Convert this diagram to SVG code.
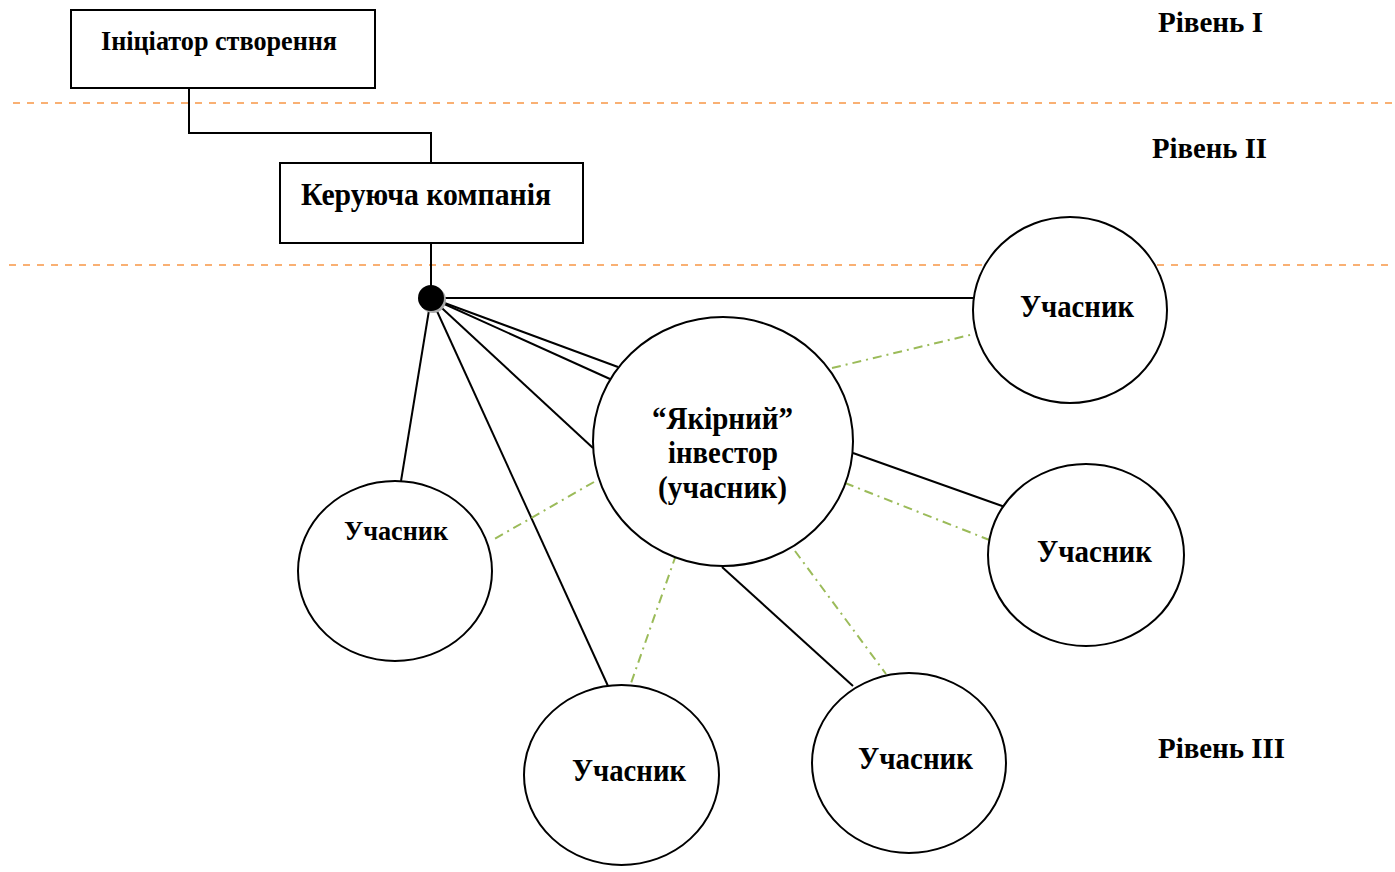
<svg xmlns="http://www.w3.org/2000/svg" width="1395" height="872" viewBox="0 0 1395 872">
<defs>
<style>
.bg{fill:#fff}
.box{fill:#fff;stroke:#000;stroke-width:2}
.node{fill:#fff;stroke:#000;stroke-width:2}
.t{font-family:"Liberation Serif","Times New Roman",serif;font-weight:bold;fill:#000}
.c{stroke:#000;stroke-width:2;fill:none}
.g{stroke:#9BBB59;stroke-width:2;fill:none;stroke-dasharray:9 5 2 5}
.lvl{stroke:#F79646;stroke-width:1.6;stroke-dasharray:7 7;fill:none}
</style>
</defs>
<rect class="bg" x="0" y="0" width="1395" height="872"/>
<g id="levels">
<line class="lvl" x1="13" y1="103" x2="1395" y2="103"/>
<line class="lvl" x1="9" y1="265" x2="1395" y2="265"/>
<text class="t" x="1158" y="32" font-size="30" textLength="105" lengthAdjust="spacingAndGlyphs">Рівень I</text>
<text class="t" x="1152" y="158" font-size="30" textLength="115" lengthAdjust="spacingAndGlyphs">Рівень II</text>
<text class="t" x="1158" y="758" font-size="30" textLength="127" lengthAdjust="spacingAndGlyphs">Рівень III</text>
</g>
<g id="connectors">
<polyline class="c" points="189,88 189,133 431,133 431,163"/>
<line class="c" x1="431" y1="243" x2="431" y2="298"/>
<line class="c" x1="431" y1="298" x2="973" y2="298"/>
<line class="c" x1="431" y1="298" x2="618" y2="367"/>
<line class="c" x1="431" y1="298" x2="610" y2="379"/>
<line class="c" x1="431" y1="298" x2="593" y2="448"/>
<line class="c" x1="431" y1="298" x2="608" y2="686"/>
<line class="c" x1="431" y1="298" x2="401" y2="481"/>
<line class="c" x1="853" y1="453" x2="1005" y2="507"/>
<line class="c" x1="722" y1="567" x2="853" y2="686"/>
<line class="g" x1="832" y1="368" x2="974" y2="334"/>
<line class="g" x1="845" y1="483" x2="992" y2="541"/>
<line class="g" x1="594" y1="482" x2="491" y2="541"/>
<line class="g" x1="676" y1="555" x2="630" y2="686"/>
<line class="g" x1="795" y1="551" x2="886" y2="674"/>
<circle cx="433" cy="300" r="13" fill="#aaa"/>
<circle cx="431" cy="298" r="13" fill="#000"/>
</g>
<g id="initiator">
<rect class="box" x="71" y="10" width="304" height="78"/>
<text class="t" x="101" y="50" font-size="27" textLength="236" lengthAdjust="spacingAndGlyphs">Ініціатор створення</text>
</g>
<g id="management">
<rect class="box" x="280" y="163" width="303" height="80"/>
<text class="t" x="301" y="205" font-size="31" textLength="250" lengthAdjust="spacingAndGlyphs">Керуюча компанія</text>
</g>
<g id="anchor">
<ellipse class="node" cx="723" cy="441.5" rx="130" ry="124.5"/>
<text class="t" x="652" y="429" font-size="31" textLength="141" lengthAdjust="spacingAndGlyphs">“Якірний”</text>
<text class="t" x="668" y="463" font-size="31" textLength="110" lengthAdjust="spacingAndGlyphs">інвестор</text>
<text class="t" x="658" y="498" font-size="31" textLength="129" lengthAdjust="spacingAndGlyphs">(учасник)</text>
</g>
<g id="p1">
<ellipse class="node" cx="1070" cy="310" rx="97" ry="93"/>
<text class="t" x="1020" y="317" font-size="31" textLength="114" lengthAdjust="spacingAndGlyphs">Учасник</text>
</g>
<g id="p2">
<ellipse class="node" cx="1086" cy="555" rx="98" ry="91"/>
<text class="t" x="1037" y="562" font-size="31" textLength="115" lengthAdjust="spacingAndGlyphs">Учасник</text>
</g>
<g id="p3">
<ellipse class="node" cx="909" cy="763" rx="97" ry="90"/>
<text class="t" x="858" y="769" font-size="31" textLength="115" lengthAdjust="spacingAndGlyphs">Учасник</text>
</g>
<g id="p4">
<ellipse class="node" cx="621.5" cy="775" rx="97.5" ry="90"/>
<text class="t" x="572" y="781" font-size="31" textLength="114" lengthAdjust="spacingAndGlyphs">Учасник</text>
</g>
<g id="p5">
<ellipse class="node" cx="395" cy="571" rx="97" ry="90"/>
<text class="t" x="344" y="540" font-size="28" textLength="104" lengthAdjust="spacingAndGlyphs">Учасник</text>
</g>
</svg>
